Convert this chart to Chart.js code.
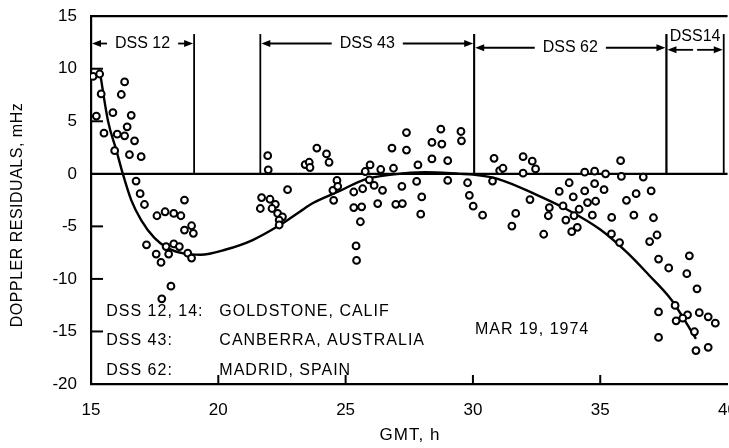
<!DOCTYPE html>
<html>
<head>
<meta charset="utf-8">
<script src="https://cdn.jsdelivr.net/npm/chart.js@4.4.1/dist/chart.umd.min.js"></script>
<style>
  html, body { margin: 0; padding: 0; background: #fff; overflow: hidden; }
  #wrap { width: 729px; height: 448px; overflow: hidden; }
</style>
</head>
<body>
<div id="wrap"><canvas id="doppler" width="745" height="448"></canvas></div>
<script>
// observed residuals (hours GMT, mHz)
const obsHours = [
  15.08, 15.34, 15.40, 16.32, 16.19, 15.21, 15.86, 16.58, 16.42, 15.51, 16.03, 16.32, 16.71, 15.93, 16.51, 16.97,
  16.77, 16.93, 17.10, 18.67, 17.59, 17.91, 18.25, 18.53, 18.95, 18.67, 19.02, 17.18, 17.56, 17.75, 17.95, 18.05,
  18.25, 18.47, 18.80, 18.95, 18.14, 17.78,
  21.94, 21.96, 23.41, 23.57, 23.60, 23.87, 24.25, 24.35, 22.72, 21.70, 21.65, 22.03, 22.24, 22.11, 22.33, 22.52,
  22.39, 22.39,
  24.66, 24.50, 24.53, 24.69, 25.32, 25.67, 25.32, 25.63, 25.58, 25.41, 25.43, 25.77, 25.96, 25.93, 26.12, 26.38,
  26.45, 26.26, 26.82, 26.88, 27.21, 26.97, 27.23, 27.39, 27.39, 27.84, 27.79, 27.99, 27.95,
  28.74, 28.39, 28.78, 29.53, 29.55, 28.39, 29.01, 29.01, 29.79, 29.86, 30.01, 30.38, 30.83, 31.05, 31.18, 30.77,
  31.97, 32.33, 31.97, 32.46, 32.24, 31.68, 31.53,
  33.00, 32.96, 32.78, 33.39, 33.78, 33.54, 33.94, 33.65, 33.97, 34.17, 33.88, 34.10, 34.39, 34.78, 34.39, 34.78,
  34.50, 34.82, 34.69, 35.21, 35.15, 35.80, 35.83, 35.45, 35.44, 35.76, 36.03, 36.41, 36.32, 36.69,
  37.00, 37.09, 37.23, 36.94, 37.29, 37.69, 38.50, 38.40, 38.80, 37.94, 37.29, 38.43, 37.98, 38.24, 38.89, 39.24,
  39.52, 38.70, 37.29, 38.76, 39.24
];
const obsResiduals = [
  9.27, 9.5, 7.6, 8.75, 7.55, 5.5, 5.82, 5.57, 4.47, 3.87, 3.77, 3.62, 3.14, 2.2, 1.82, 1.63,
  -0.69, -1.89, -2.92, -2.5, -3.99, -3.61, -3.77, -3.99, -4.94, -5.35, -5.66, -6.76, -7.64, -8.43, -6.92, -7.64,
  -6.67, -6.92, -7.55, -8.02, -10.69, -11.89,
  1.73, 0.38, 0.88, 1.1, 0.6, 2.45, 1.89, 1.1, -1.51, -2.26, -3.3, -2.42, -2.9, -3.3, -3.77, -4.09,
  -4.4, -4.87,
  -0.63, -1.57, -2.52, -1.19, -1.73, -1.42, -3.21, -3.14, -4.56, -6.86, -8.24, 0.22, 0.85, -0.57, -1.1, 0.41,
  -1.57, -2.83, 2.45, 0.53, -1.19, -2.9, -2.83, 3.93, 2.26, 0.85, -0.72, -2.2, -3.84,
  4.25, 2.99, 2.83, 4.03, 3.14, 1.42, 1.25, -0.63, -0.85, -2.05, -3.08, -3.93, 1.48, 0.31, 0.53, -0.69,
  1.63, 1.2, 0.06, 0.47, -2.45, -3.77, -4.97,
  -3.21, -3.99, -5.75, -1.67, -0.85, -3.05, -2.2, -4.4, -3.99, -3.37, -5.5, -5.09, 0.16, 0.25, -1.63, -0.94,
  -2.74, -2.61, -3.93, 0.0, -1.51, 1.25, -0.25, -4.15, -5.72, -6.54, -2.52, -1.89, -3.93, -0.31,
  -1.63, -4.18, -5.82, -6.45, -8.11, -8.96, -7.8, -9.5, -10.94, -12.52, -13.14, -13.42, -13.99, -13.74, -13.21, -13.61,
  -14.21, -15.03, -15.57, -16.82, -16.51
];

// fitted curve
const fitHours = [15.35, 15.67, 16.0, 16.25, 16.58, 16.97, 17.49, 18.0, 18.67, 19.3, 20.3, 21.35, 22.4, 23.2, 23.7,
  24.7, 25.8, 26.9, 28.1, 29.5, 30.0, 31.0, 32.5, 33.7, 35.0, 36.06, 36.9, 37.8, 38.76];
const fitResiduals = [9.7, 5.0, 2.2, 0, -2.5, -4.4, -6.1, -7.05, -7.6, -7.7, -7.2, -6.3, -4.9, -3.6, -2.8,
  -1.7, -0.5, -0.05, 0.15, 0.0, -0.07, -0.5, -2.0, -3.4, -5.3, -7.5, -9.6, -12.0, -15.7];

const xTicks = [15, 20, 25, 30, 35, 40];
const yTicks = [15, 10, 5, 0, -5, -10, -15, -20];

const stationNames = ['DSS 12', 'DSS 43', 'DSS 62', 'DSS14'];
const stationStart = [15, 21.65, 30.05, 37.6];
const stationEnd = [19.05, 30.05, 37.6, 39.85];

const siteCodes = ['DSS 12, 14:', 'DSS 43:', 'DSS 62:'];
const siteNames = ['GOLDSTONE, CALIF', 'CANBERRA, AUSTRALIA', 'MADRID, SPAIN'];
const dateNote = 'MAR 19, 1974';

const FONT = '"Liberation Sans", Arial, sans-serif';

function arrowTo(ctx, x1, x2, y) {
  const dir = x2 > x1 ? 1 : -1;
  ctx.beginPath();
  ctx.moveTo(x1, y);
  ctx.lineTo(x2 - dir * 6, y);
  ctx.stroke();
  ctx.beginPath();
  ctx.moveTo(x2, y);
  ctx.lineTo(x2 - dir * 9, y - 3.5);
  ctx.lineTo(x2 - dir * 9, y + 3.5);
  ctx.closePath();
  ctx.fill();
}

const annotate = {
  id: 'annotate',
  beforeDatasetsDraw(chart) {
    const { ctx, chartArea: a, scales: { y } } = chart;
    ctx.save();
    ctx.strokeStyle = '#000';
    ctx.lineWidth = 2.2;
    const y0 = y.getPixelForValue(0);
    ctx.beginPath();
    ctx.moveTo(a.left, y0);
    ctx.lineTo(a.right, y0);
    ctx.stroke();
    ctx.restore();
  },
  afterDraw(chart) {
    const { ctx, chartArea: a, scales: { x, y } } = chart;
    ctx.save();
    ctx.strokeStyle = '#000';
    ctx.fillStyle = '#000';

    // top frame
    ctx.lineWidth = 2.2;
    ctx.beginPath();
    ctx.moveTo(a.left, a.top);
    ctx.lineTo(a.right, a.top);
    ctx.stroke();

    // inside ticks
    ctx.lineWidth = 2;
    yTicks.forEach(v => {
      if (v === 15 || v === 0 || v === -20) return;
      const py = y.getPixelForValue(v);
      ctx.beginPath();
      ctx.moveTo(a.left, py);
      ctx.lineTo(a.left + 12, py);
      ctx.stroke();
    });
    xTicks.forEach(v => {
      if (v === 15 || v === 40) return;
      const px = x.getPixelForValue(v);
      ctx.beginPath();
      ctx.moveTo(px, a.bottom);
      ctx.lineTo(px, a.bottom - 9);
      ctx.stroke();
    });

    // station spans
    const y0 = y.getPixelForValue(0);
    const yTop = y.getPixelForValue(13.3);
    const levels = [12.4, 12.4, 12.0, 11.8];
    ctx.font = '16px ' + FONT;
    ctx.textBaseline = 'middle';
    ctx.textAlign = 'center';
    ctx.lineWidth = 1.8;
    stationNames.forEach((name, i) => {
      const xa = x.getPixelForValue(stationStart[i]);
      const xb = x.getPixelForValue(stationEnd[i]);
      [xa, xb].forEach(px => {
        if (px <= a.left + 1) return;
        ctx.beginPath();
        ctx.moveTo(px, y0);
        ctx.lineTo(px, yTop);
        ctx.stroke();
      });
      const mid = (xa + xb) / 2;
      const ay = y.getPixelForValue(levels[i]);
      if (i < 3) {
        const w = ctx.measureText(name).width;
        ctx.fillText(name, mid, ay);
        arrowTo(ctx, mid - w / 2 - 8, xa + 1, ay);
        arrowTo(ctx, mid + w / 2 + 8, xb - 1, ay);
      } else {
        ctx.fillText(name, mid, y.getPixelForValue(13.1));
        arrowTo(ctx, mid - 2, xa + 1, ay);
        arrowTo(ctx, mid + 2, xb - 1, ay);
      }
    });

    // site notes
    ctx.textAlign = 'left';
    ctx.letterSpacing = '1px';
    const noteLevels = [-13.1, -15.9, -18.7];
    siteCodes.forEach((code, i) => {
      const py = y.getPixelForValue(noteLevels[i]);
      ctx.fillText(code, x.getPixelForValue(15.6), py);
      ctx.fillText(siteNames[i], x.getPixelForValue(20.04), py);
    });
    ctx.fillText(dateNote, x.getPixelForValue(30.08), y.getPixelForValue(-14.8));

    // axis titles
    ctx.textAlign = 'center';
    ctx.letterSpacing = '1px';
    ctx.font = '17px ' + FONT;
    ctx.fillText('GMT, h', 410, 435);
    ctx.letterSpacing = '0.5px';
    ctx.font = '16px ' + FONT;
    ctx.translate(18, 215);
    ctx.rotate(-Math.PI / 2);
    ctx.fillText('DOPPLER RESIDUALS, mHz', 0, 0);
    ctx.restore();
  }
};

new Chart(document.getElementById('doppler'), {
  type: 'scatter',
  data: {
    datasets: [
      {
        label: 'observed',
        data: obsHours.map((h, i) => ({ x: h, y: obsResiduals[i] })),
        pointRadius: 3.4,
        pointBorderWidth: 2,
        borderColor: '#000',
        backgroundColor: '#fff',
      },
      {
        label: 'fit',
        data: fitHours.map((h, i) => ({ x: h, y: fitResiduals[i] })),
        showLine: true,
        pointRadius: 0,
        borderColor: '#000',
        borderWidth: 2.4,
        cubicInterpolationMode: 'monotone',
      },
    ],
  },
  options: {
    responsive: false,
    animation: false,
    layout: { padding: { top: 11, right: 14, left: 0, bottom: 0 } },
    plugins: { legend: { display: false }, tooltip: { enabled: false } },
    scales: {
      x: {
        type: 'linear',
        min: 15,
        max: 40,
        afterBuildTicks: s => { s.ticks = xTicks.map(v => ({ value: v })); },
        afterFit: s => { s.height = 64; },
        grid: { display: false },
        border: { display: true, color: '#000', width: 2.2 },
        ticks: { color: '#000', padding: 8, maxRotation: 0, font: { family: FONT, size: 17 } },
      },
      y: {
        min: -20,
        max: 15,
        afterBuildTicks: s => { s.ticks = yTicks.map(v => ({ value: v })); },
        afterFit: s => { s.width = 91; },
        grid: { display: false },
        border: { display: true, color: '#000', width: 2.2 },
        ticks: { color: '#000', padding: 6, font: { family: FONT, size: 17 } },
      },
    },
  },
  plugins: [annotate],
});
</script>
</body>
</html>
